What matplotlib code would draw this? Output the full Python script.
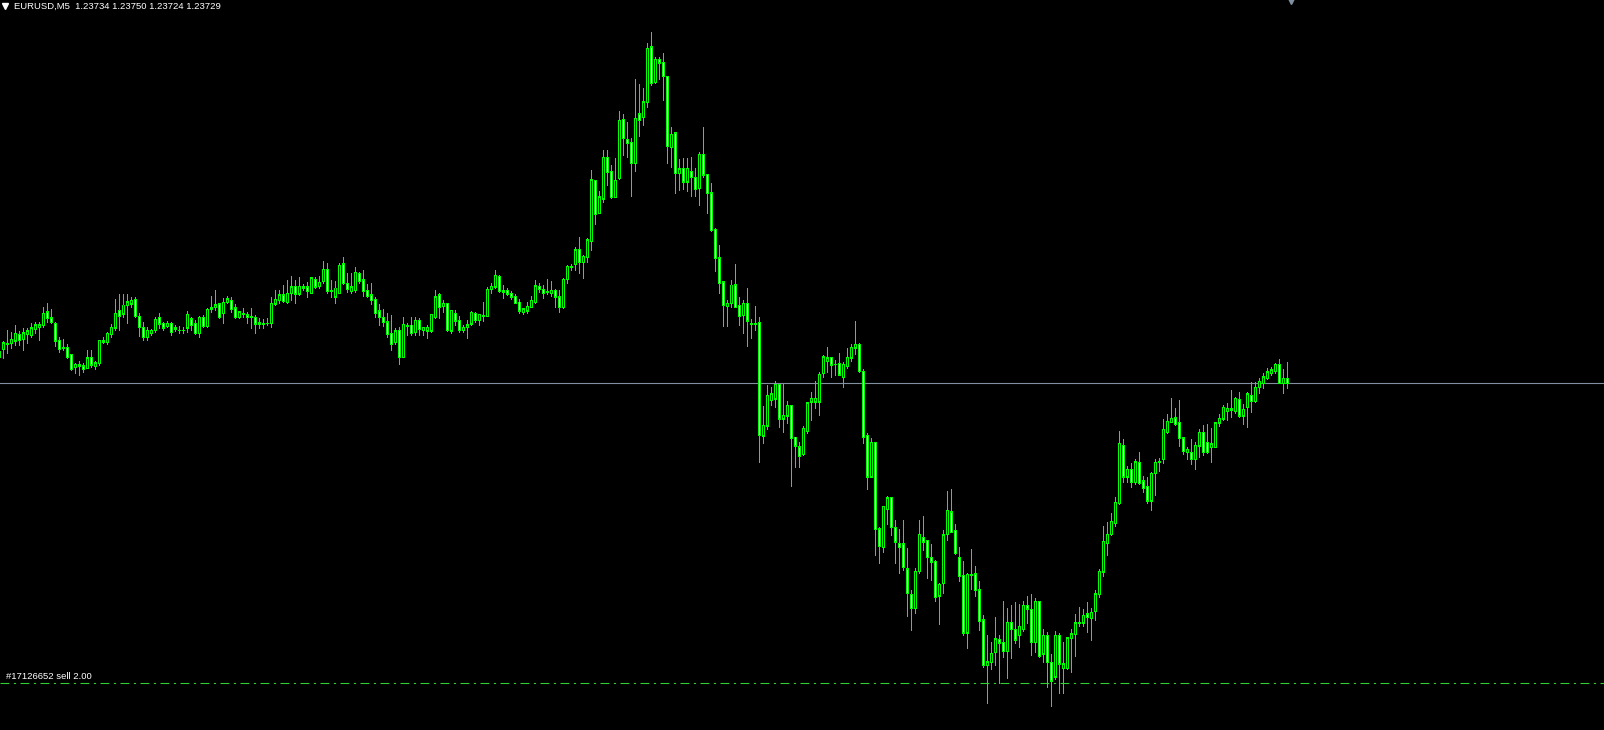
import numpy as np
import matplotlib
matplotlib.use('Agg')
import matplotlib.pyplot as plt

# EURUSD M5 candles, values are points above 1.23000 (1 point = 0.00001)
BASE = 1.23
POINT = 0.00001

opens = [
    755, 763, 768, 769, 771, 778, 773, 778, 777, 783,
    785, 787, 800, 794, 788, 772, 764, 765, 758, 745,
    746, 746, 744, 754, 746, 749, 770, 770, 778, 784,
    802, 798, 807, 808, 813, 796, 785, 775, 779, 782,
    794, 788, 786, 789, 783, 782, 782, 784, 793, 788,
    779, 795, 786, 803, 805, 808, 799, 810, 812, 804,
    795, 798, 797, 795, 795, 788, 789, 789, 789, 808,
    812, 817, 810, 819, 825, 818, 824, 825, 819, 832,
    826, 831, 843, 821, 815, 819, 848, 829, 821, 822,
    839, 832, 822, 817, 813, 801, 795, 790, 779, 770,
    782, 755, 786, 787, 780, 792, 782, 781, 781, 795,
    817, 806, 809, 781, 799, 791, 782, 785, 788, 798,
    792, 796, 796, 823, 825, 836, 820, 822, 819, 815,
    810, 800, 801, 805, 810, 826, 823, 820, 819, 822,
    815, 805, 833, 845, 848, 862, 850, 855, 871, 932,
    899, 913, 955, 940, 915, 934, 993, 973, 970, 949,
    998, 995, 1010, 1065, 1030, 1053, 1050, 1036, 965, 979,
    939, 943, 930, 941, 935, 924, 958, 938, 919, 883,
    854, 830, 806, 809, 827, 807, 797, 808, 789, 788,
    790, 676, 686, 712, 713, 727, 693, 696, 706, 675,
    665, 658, 681, 710, 710, 710, 739, 751, 755, 748,
    749, 735, 746, 754, 764, 768, 741, 676, 635, 670,
    583, 565, 603, 614, 585, 569, 568, 543, 518, 504,
    541, 574, 571, 555, 551, 516, 529, 578, 600, 581,
    555, 536, 479, 537, 538, 522, 492, 447, 449, 459,
    473, 469, 461, 490, 482, 476, 483, 506, 502, 470,
    510, 458, 476, 450, 435, 477, 444, 444, 474, 478,
    489, 489, 498, 494, 501, 518, 540, 569, 578, 589,
    609, 667, 635, 642, 630, 650, 631, 625, 611, 639,
    650, 653, 680, 690, 694, 689, 674, 660, 660, 653,
    666, 679, 670, 665, 665, 689, 693, 701, 703, 701,
    712, 696, 705, 717, 711, 725, 729, 734, 739, 741,
    748, 729, 734,
]

highs = [
    764, 771, 782, 780, 787, 781, 784, 784, 789, 790,
    790, 805, 809, 803, 790, 775, 773, 768, 758, 749,
    751, 749, 762, 762, 751, 772, 775, 780, 788, 813,
    818, 818, 818, 815, 815, 799, 790, 785, 783, 795,
    799, 790, 791, 790, 787, 786, 785, 801, 795, 792,
    796, 797, 804, 816, 822, 809, 814, 816, 815, 808,
    801, 804, 800, 804, 797, 794, 793, 794, 815, 822,
    822, 827, 832, 836, 832, 835, 828, 830, 835, 835,
    836, 851, 849, 832, 831, 849, 855, 839, 839, 845,
    840, 842, 828, 829, 815, 808, 803, 799, 797, 784,
    785, 795, 789, 795, 795, 794, 785, 787, 798, 822,
    819, 812, 809, 802, 802, 796, 787, 792, 801, 800,
    798, 810, 825, 829, 842, 837, 827, 824, 821, 818,
    813, 804, 810, 816, 832, 829, 827, 833, 831, 823,
    822, 834, 847, 848, 865, 875, 857, 874, 942, 932,
    921, 962, 962, 947, 954, 1001, 998, 990, 974, 1033,
    1028, 1024, 1069, 1080, 1055, 1055, 1059, 1036, 985, 980,
    953, 954, 954, 955, 944, 960, 985, 938, 929, 884,
    867, 830, 812, 832, 848, 815, 812, 824, 793, 806,
    795, 706, 727, 725, 731, 728, 728, 711, 706, 675,
    670, 686, 710, 720, 731, 740, 757, 765, 755, 752,
    759, 750, 764, 768, 791, 769, 743, 679, 674, 670,
    585, 605, 616, 615, 592, 583, 592, 564, 522, 544,
    592, 596, 572, 568, 552, 529, 582, 621, 623, 588,
    565, 551, 539, 563, 546, 531, 497, 477, 470, 495,
    477, 511, 504, 507, 510, 508, 511, 516, 518, 514,
    511, 483, 480, 458, 481, 479, 470, 475, 483, 498,
    505, 503, 510, 504, 522, 543, 586, 590, 599, 615,
    681, 673, 646, 649, 653, 660, 636, 635, 640, 653,
    654, 693, 698, 714, 704, 712, 675, 665, 673, 670,
    683, 687, 688, 684, 690, 698, 707, 709, 722, 715,
    720, 708, 720, 730, 730, 734, 739, 744, 745, 749,
    753, 743, 750,
]

lows = [
    752, 754, 759, 764, 767, 767, 762, 769, 775, 779,
    772, 785, 790, 789, 766, 760, 762, 754, 742, 739,
    737, 740, 744, 745, 743, 747, 769, 768, 775, 782,
    782, 795, 789, 805, 795, 776, 772, 772, 777, 780,
    784, 782, 785, 777, 781, 779, 779, 780, 782, 778,
    775, 785, 785, 800, 802, 794, 789, 809, 800, 794,
    794, 795, 789, 784, 779, 784, 784, 787, 785, 807,
    809, 810, 809, 812, 809, 817, 822, 815, 819, 824,
    824, 829, 819, 815, 809, 819, 828, 820, 819, 820,
    829, 816, 815, 808, 795, 787, 786, 775, 762, 768,
    748, 755, 777, 777, 777, 777, 777, 774, 780, 794,
    794, 800, 781, 779, 787, 780, 780, 774, 787, 790,
    787, 791, 796, 819, 824, 820, 814, 817, 813, 809,
    799, 798, 799, 805, 809, 820, 814, 818, 816, 805,
    800, 804, 829, 842, 842, 839, 834, 850, 862, 888,
    899, 910, 927, 914, 915, 933, 957, 955, 916, 941,
    976, 987, 1005, 1027, 1029, 1033, 1012, 949, 945, 919,
    922, 923, 921, 916, 916, 907, 935, 899, 881, 841,
    819, 786, 786, 805, 805, 787, 779, 766, 774, 782,
    650, 669, 683, 707, 705, 685, 680, 689, 626, 645,
    645, 657, 679, 692, 704, 697, 735, 740, 735, 737,
    737, 725, 744, 751, 758, 740, 669, 623, 635, 557,
    549, 560, 588, 577, 549, 539, 542, 496, 482, 499,
    539, 562, 534, 532, 511, 488, 519, 572, 580, 558,
    531, 477, 464, 523, 516, 482, 445, 409, 443, 447,
    429, 455, 434, 454, 469, 465, 481, 489, 457, 460,
    455, 450, 425, 406, 433, 419, 419, 443, 440, 456,
    486, 486, 480, 472, 492, 515, 536, 557, 577, 586,
    608, 630, 630, 625, 628, 628, 620, 609, 602, 617,
    641, 649, 679, 690, 687, 666, 658, 653, 648, 643,
    655, 657, 659, 650, 665, 686, 692, 692, 695, 699,
    695, 688, 685, 700, 710, 719, 724, 733, 737, 739,
    729, 719, 724,
]

closes = [
    761, 769, 769, 773, 779, 772, 779, 781, 784, 787,
    787, 799, 794, 790, 771, 763, 764, 755, 743, 747,
    748, 743, 754, 747, 749, 771, 771, 779, 785, 798,
    796, 807, 810, 812, 796, 785, 775, 781, 781, 793,
    788, 784, 789, 780, 784, 782, 782, 797, 787, 779,
    795, 786, 803, 805, 807, 795, 810, 813, 803, 795,
    800, 799, 795, 796, 788, 790, 788, 789, 808, 813,
    817, 811, 819, 825, 818, 825, 825, 821, 834, 825,
    830, 843, 821, 822, 824, 847, 829, 823, 825, 840,
    831, 821, 816, 812, 799, 795, 790, 778, 768, 781,
    755, 787, 787, 779, 792, 783, 784, 784, 797, 815,
    805, 808, 782, 801, 791, 782, 785, 787, 800, 792,
    797, 797, 823, 825, 837, 821, 822, 818, 815, 809,
    801, 803, 806, 812, 826, 823, 819, 821, 822, 815,
    805, 833, 846, 846, 862, 850, 855, 872, 932, 898,
    915, 954, 940, 915, 932, 992, 974, 969, 949, 994,
    992, 1010, 1064, 1029, 1053, 1049, 1036, 966, 978, 939,
    943, 930, 943, 935, 923, 958, 937, 919, 882, 854,
    829, 807, 809, 827, 805, 796, 809, 791, 788, 789,
    677, 687, 717, 718, 727, 693, 696, 706, 674, 666,
    656, 684, 709, 713, 713, 737, 755, 754, 747, 748,
    737, 747, 755, 765, 767, 741, 675, 635, 670, 583,
    566, 605, 614, 585, 570, 565, 544, 519, 504, 541,
    578, 570, 555, 550, 515, 528, 577, 601, 580, 559,
    536, 479, 537, 538, 522, 491, 447, 450, 458, 473,
    469, 461, 490, 483, 472, 485, 506, 503, 470, 510,
    456, 476, 449, 431, 477, 448, 448, 474, 478, 489,
    490, 497, 495, 499, 518, 540, 570, 578, 590, 610,
    668, 635, 643, 630, 650, 629, 624, 611, 639, 650,
    651, 682, 691, 694, 688, 674, 661, 662, 653, 667,
    679, 660, 660, 668, 689, 693, 705, 704, 702, 713,
    696, 702, 718, 711, 725, 730, 735, 740, 742, 748,
    729, 734, 729,
]

bid_price = 1.23729
order_price = 1.23429
order_label = '#17126652 sell 2.00'
header = 'EURUSD,M5  1.23734 1.23750 1.23724 1.23729'

o = BASE + np.array(opens) * POINT
h = BASE + np.array(highs) * POINT
l = BASE + np.array(lows) * POINT
c = BASE + np.array(closes) * POINT
x = np.arange(len(c))

fig = plt.figure(figsize=(16.04, 7.30), dpi=100, facecolor='black')
ax = fig.add_axes([0, 0, 1, 1])
ax.set_facecolor('black')

# wicks
ax.vlines(x, l, h, color='#00ff00', linewidth=0.72, antialiased=False, zorder=2)

# body: green outline (outer bar) with a 1px black/white core
lo_body = np.minimum(o, c)
hi_body = np.maximum(o, c)
ax.bar(x, hi_body - lo_body + POINT, bottom=lo_body - POINT / 2, width=0.75,
       color='#00ff00', linewidth=0, antialiased=False, zorder=3)
inner = (hi_body - lo_body) > 2 * POINT
bear = c < o
ax.bar(x[inner], (hi_body - lo_body)[inner] - POINT, bottom=lo_body[inner] + POINT / 2,
       width=0.25, color=np.where(bear[inner], 'white', 'black'),
       linewidth=0, antialiased=False, zorder=4)

# bid line and open order line
ax.axhline(bid_price, color='#8090a0', linewidth=0.8, zorder=1)
ax.axhline(order_price, color='#32cd32', linewidth=0.8,
           linestyle=(0, (8, 4, 2, 4)), zorder=1)

ax.text(0.0038, order_price + 2 * POINT, order_label, color='white',
        fontsize=6.8, family='Liberation Sans', va='bottom', ha='left',
        transform=ax.get_yaxis_transform())
ax.text(0.0085, 0.997, header, transform=ax.transAxes, color='white',
        fontsize=6.8, family='Liberation Sans', va='top', ha='left')
ax.plot([0.0031], [0.9915], marker='v', color='white', markersize=4,
        transform=ax.transAxes, clip_on=False)
ax.plot([0.805], [0.998], marker='v', color='#8090a0', markersize=4,
        transform=ax.transAxes, clip_on=False)

ax.set_xlim(0.25, 401.25)
ax.set_ylim(BASE + 382 * POINT, BASE + 1112 * POINT)
ax.axis('off')

fig.savefig('out.png', dpi=100, facecolor='black')
